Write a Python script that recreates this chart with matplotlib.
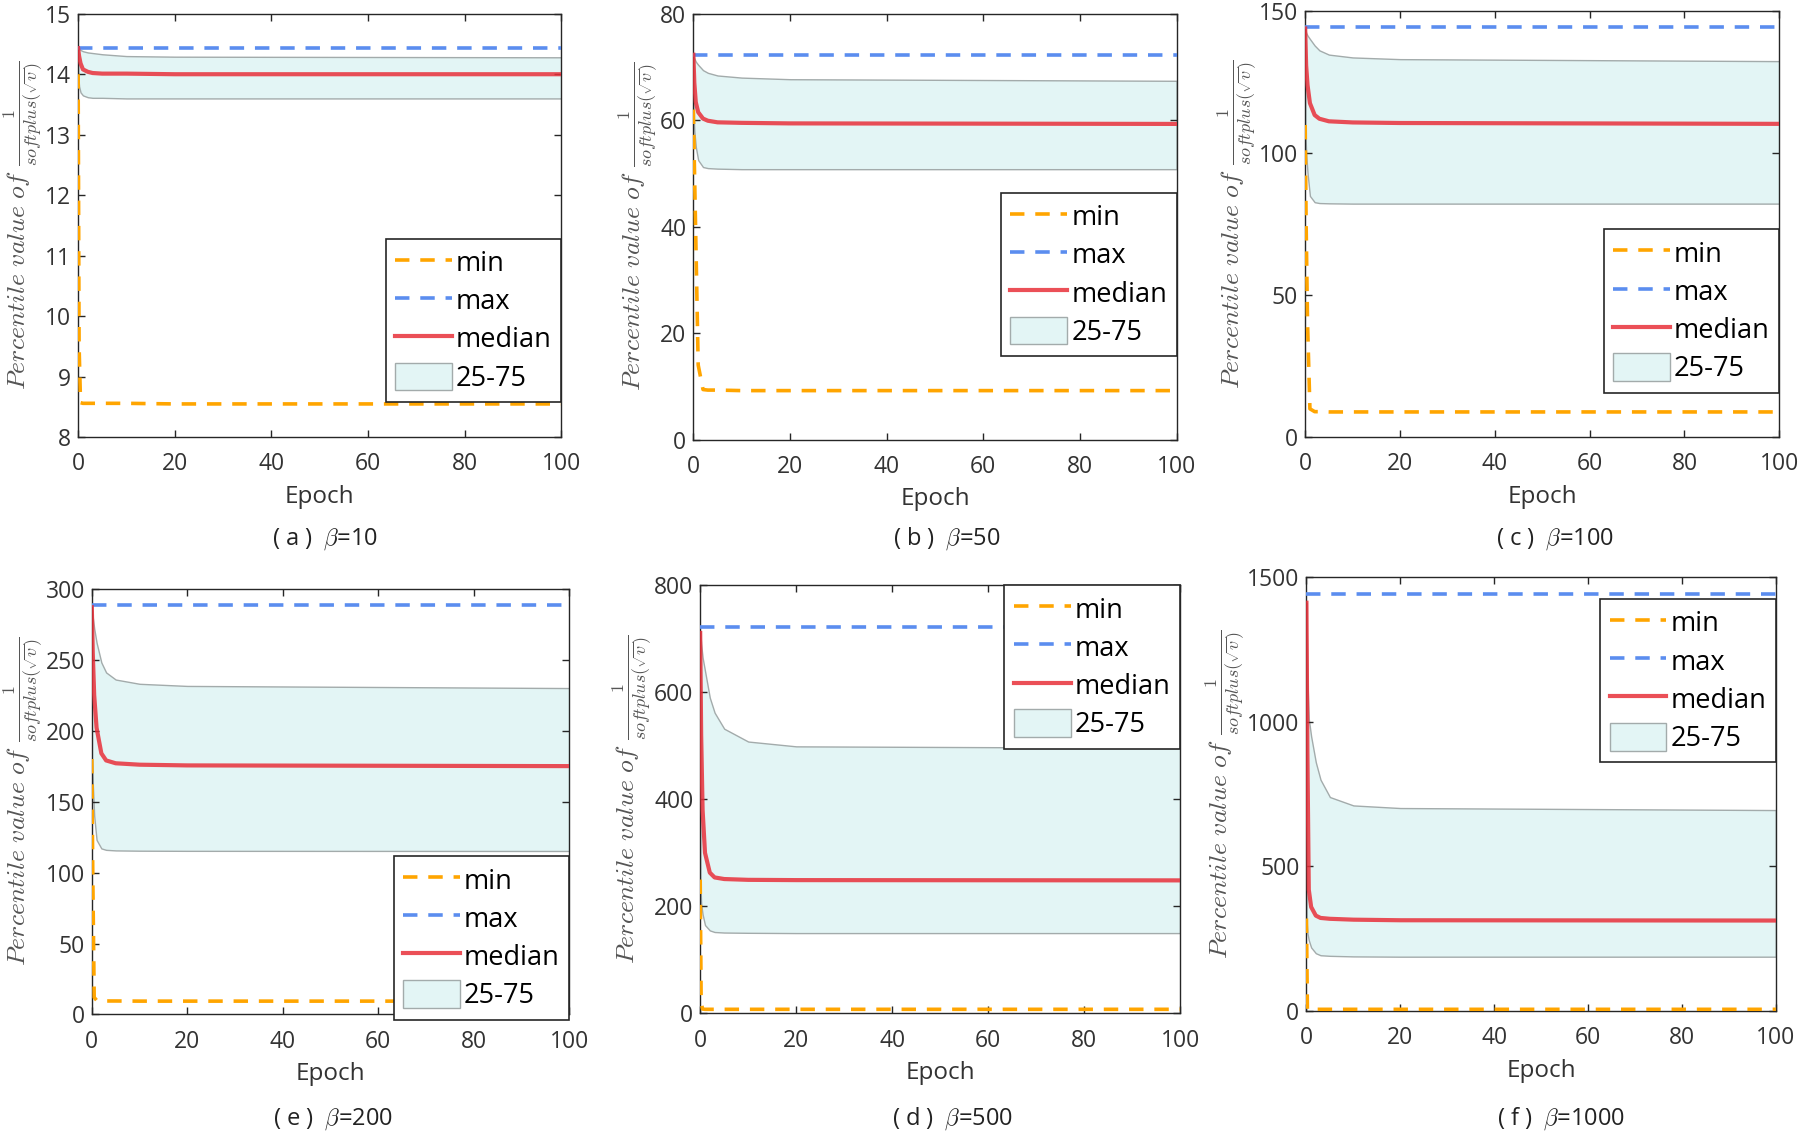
import matplotlib

matplotlib.use("Agg")
import matplotlib.pyplot as plt


plt.rcParams["font.family"] = ["Open Sans", "DejaVu Sans"]
plt.rcParams["mathtext.fontset"] = "cm"

EPOCHS = [0, 0.2, 0.5, 1, 2, 3, 5, 10, 20, 100]

PANEL_TAGS = ["a", "b", "c", "e", "d", "f"]
BETAS = [10, 50, 100, 200, 500, 1000]

MAX_VALUES = [14.43, 72.3, 144.4, 288.8, 722, 1443.6]

MEDIAN = [
    [14.43, 14.30, 14.18, 14.08, 14.04, 14.02, 14.01, 14.01, 14.00, 14.00],
    [72.3, 67.0, 63.4, 61.5, 60.3, 59.9, 59.6, 59.5, 59.4, 59.3],
    [144.0, 131.0, 124.0, 117.7, 113.5, 112.2, 111.3, 110.9, 110.7, 110.4],
    [287, 255, 225, 202, 184, 179, 177, 176, 175.5, 175],
    [711, 520, 380, 300, 263, 254, 251, 249.5, 249, 248.5],
    [1412, 900, 420, 360, 330, 322, 319, 316, 314, 313],
]

Q75 = [
    [14.43, 14.42, 14.40, 14.38, 14.36, 14.35, 14.33, 14.30, 14.29, 14.28],
    [72.3, 71.6, 71.0, 70.4, 69.4, 68.9, 68.4, 68.0, 67.7, 67.4],
    [144.0, 142.5, 141.5, 140.3, 138.0, 136.3, 134.8, 133.8, 133.2, 132.5],
    [288, 280, 272, 262, 248, 241, 236, 233, 231.5, 230],
    [715, 690, 665, 640, 590, 562, 532, 508, 499, 496],
    [1412, 1150, 1010, 950, 860, 800, 740, 711, 702, 695],
]

Q25 = [
    [14.00, 13.80, 13.70, 13.65, 13.62, 13.61, 13.61, 13.60, 13.60, 13.60],
    [62.0, 58.0, 55.0, 52.5, 51.2, 51.0, 50.9, 50.8, 50.8, 50.8],
    [110.0, 100.0, 93.0, 85.0, 82.8, 82.5, 82.4, 82.3, 82.3, 82.3],
    [180, 163, 140, 123, 117, 116, 115.6, 115.4, 115.3, 115.2],
    [250, 205, 185, 165, 155, 152, 151, 150.5, 150, 150],
    [320, 270, 245, 220, 200, 193, 191, 189, 188, 188],
]

MIN_VALUES = [
    [14.00, 9.50, 8.57, 8.56, 8.56, 8.56, 8.56, 8.56, 8.55, 8.55],
    [62.0, 52.0, 38.0, 14.0, 9.4, 9.3, 9.3, 9.2, 9.2, 9.2],
    [110.0, 75.0, 40.0, 10.0, 9.0, 9.0, 8.9, 8.9, 8.9, 8.9],
    [180, 100, 12, 10, 9.6, 9.5, 9.5, 9.4, 9.4, 9.4],
    [250, 20, 8, 7.5, 7.5, 7.5, 7.5, 7.5, 7.5, 7.5],
    [320, 6, 6, 6, 6, 6, 6, 6, 6, 6],
]

Y_LIMITS = [(8, 15), (0, 80), (0, 150), (0, 300), (0, 800), (0, 1500)]
Y_STEPS = [1, 20, 50, 50, 200, 500]

# layout (figure fractions) and legend anchors (axes fractions)
AX_POS = [
    [0.0434, 0.6148, 0.2685, 0.3731],
    [0.3852, 0.6127, 0.2685, 0.3752],
    [0.7251, 0.6148, 0.2634, 0.3751],
    [0.0510, 0.1062, 0.2653, 0.3751],
    [0.3890, 0.1072, 0.2666, 0.3771],
    [0.7258, 0.1092, 0.2608, 0.3822],
]
LEGEND_TOP = [0.469, 0.5795, 0.488, 0.372, 1.0, 0.95]
CAPTION_POS = [
    (0.1805, 0.525), (0.526, 0.525), (0.864, 0.525),
    (0.185, 0.0142), (0.529, 0.0142), (0.867, 0.0142),
]

ORANGE = "#FFA500"
BLUE = "#5B8DEF"
RED = "#E8303A"
BAND = "#E3F5F5"
BAND_EDGE = "#A3ABAB"
AX_COLOR = "#262626"


def draw_panel(fig, i):
    ax = fig.add_axes(AX_POS[i])

    band = ax.fill_between(EPOCHS, Q25[i], Q75[i], facecolor=BAND,
                           edgecolor=BAND_EDGE, linewidth=1.0, zorder=1)
    (min_line,) = ax.plot(EPOCHS, MIN_VALUES[i], color=ORANGE, lw=2.6,
                          dashes=(4, 3), zorder=3)
    (max_line,) = ax.plot([EPOCHS[0], EPOCHS[-1]], [MAX_VALUES[i]] * 2,
                          color=BLUE, lw=2.6, dashes=(4, 3), zorder=3)
    (med_line,) = ax.plot(EPOCHS, MEDIAN[i], color=RED, lw=3.0,
                          alpha=0.85, zorder=4)

    lo, hi = Y_LIMITS[i]
    ax.set_xlim(EPOCHS[0], EPOCHS[-1])
    ax.set_ylim(lo, hi)
    ax.set_xticks(range(0, 101, 20))
    ax.set_yticks(range(lo, hi + 1, Y_STEPS[i]))

    ax.tick_params(direction="in", top=True, right=True, length=5,
                   width=1, colors=AX_COLOR, labelsize=16.5,
                   labelcolor="#333333")
    ax.tick_params(axis="x", pad=11)
    ax.tick_params(axis="y", pad=5)
    for sp in ax.spines.values():
        sp.set_color(AX_COLOR)
        sp.set_linewidth(1.0)

    ax.set_xlabel("Epoch", fontsize=17.5, color="#333333", labelpad=6)
    ax.set_ylabel(r"$Percentile\ value\ of\ \frac{1}{softplus(\sqrt{v})}$",
                  fontsize=18.5, color="#555555", labelpad=0)

    leg = ax.legend(
        [min_line, max_line, med_line, band],
        ["min", "max", "median", "25-75"],
        loc="upper right",
        bbox_to_anchor=(1.0, LEGEND_TOP[i]),
        borderaxespad=0,
        fontsize=19.5,
        frameon=True,
        fancybox=False,
        framealpha=1,
        edgecolor=AX_COLOR,
        borderpad=0.35,
        labelspacing=0.3,
        handlelength=2.1,
        handleheight=1.2,
        handletextpad=0.15,
    )
    leg.get_frame().set_linewidth(1.2)
    leg.set_zorder(10)

    cx, cy = CAPTION_POS[i]
    fig.text(cx, cy, f"( {PANEL_TAGS[i]} )  $\\beta$=" + str(BETAS[i]),
             ha="center", va="center", fontsize=17, color="#222222")


def main():
    fig = plt.figure(figsize=(18, 11.35), dpi=100)
    for i in range(len(BETAS)):
        draw_panel(fig, i)
    fig.savefig("out.png", dpi=100)
    plt.close(fig)


if __name__ == "__main__":
    main()
